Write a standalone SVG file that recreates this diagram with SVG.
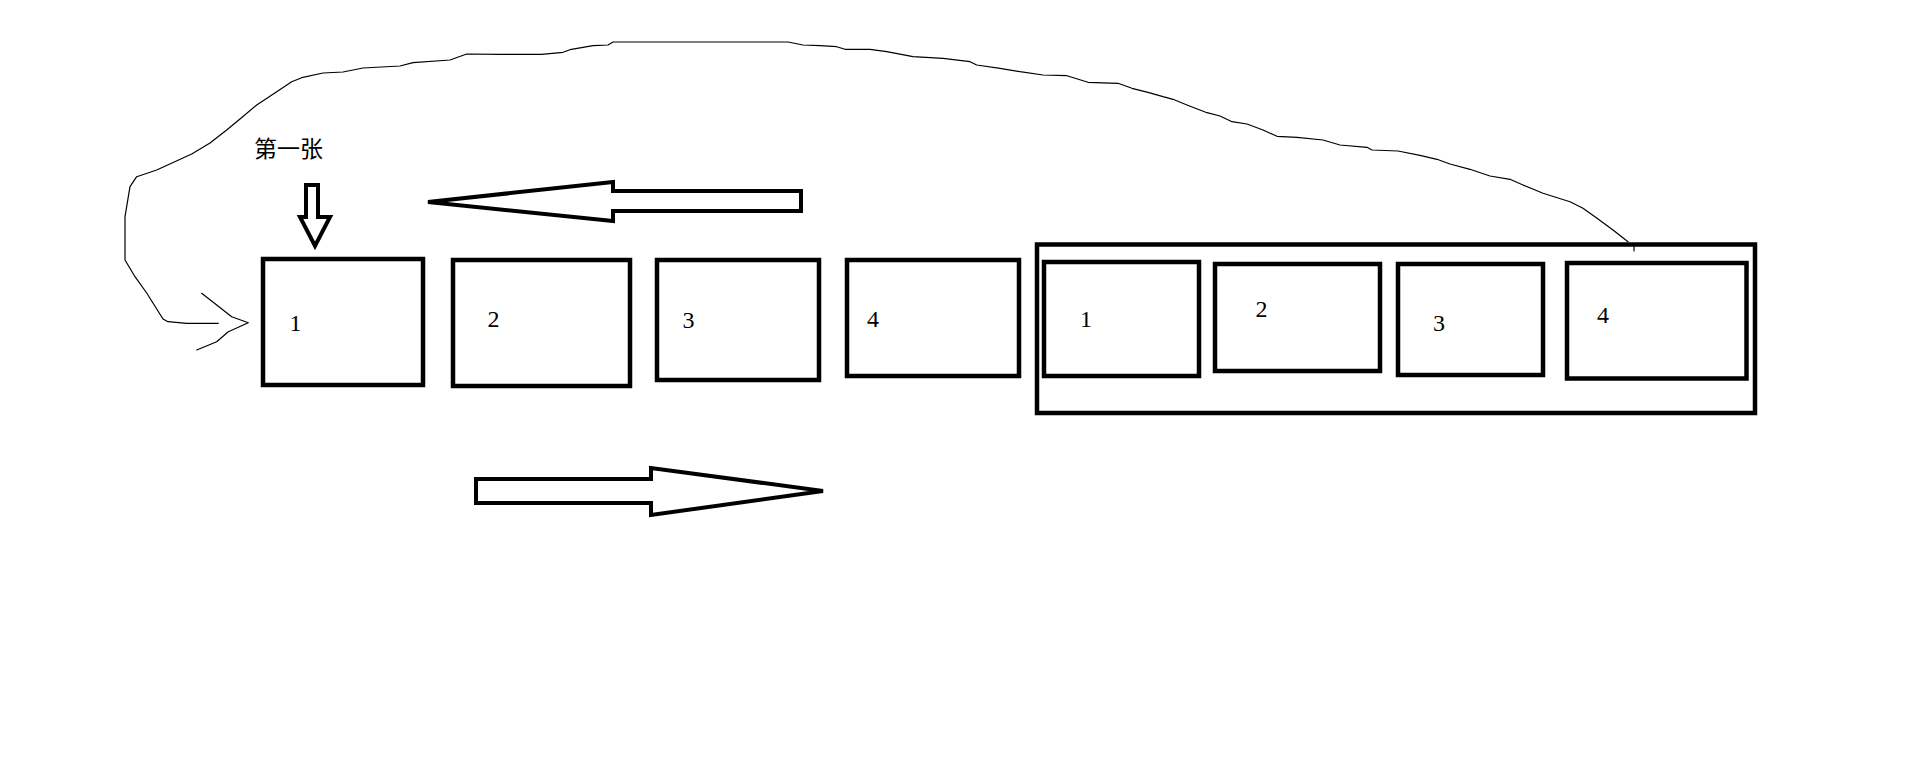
<svg xmlns="http://www.w3.org/2000/svg" width="1912" height="771" viewBox="0 0 1912 771">
<style>
.box{fill:none;stroke:#000;stroke-width:4.5}
.blk{fill:#fff;stroke:#000;stroke-width:4;stroke-linejoin:miter}
.thin{fill:none;stroke:#000;stroke-width:1.2;stroke-linejoin:round;stroke-linecap:round}
.num{font-family:"Liberation Serif","Times New Roman",serif;font-size:24px;fill:#000;text-anchor:middle}
.cjk{font-family:"Noto Sans CJK SC","Noto Sans CJK TC",sans-serif;font-size:23px;fill:#000}
</style>
<rect x="0" y="0" width="1912" height="771" fill="#fff"/>
<g id="connectors">
<polyline class="thin" points="1628,241.7 1613,230 1597,218.3 1583,208.3 1570,201.7 1543,193.3 1523,185 1510,179.3 1490,176 1470,169.3 1450,164 1437,159.3 1420,155.3 1398,151 1372,150 1367,147.3 1340,145 1323,140 1297,137.3 1277,136.3 1263,130 1247,124 1232,121.7 1220,116 1207,112.7 1187,105 1173,99.3 1163,96.7 1148,92.3 1132,88.3 1118,83.3 1088,82.3 1067,75.7 1043,75 1020,71.7 1000,68.3 976.7,65 970,61.7 943,58.3 913,56.7 886.7,51.7 870,49.3 845,49.3 836.7,46.7 820,45.7 803,45 788,42 613,42 608,45 593,45.7 570,49.7 563,52.3 541.7,54.3 500,54.3 466.7,54 450,60 413,62.7 400,66 363,68 343,72 323,73 301.7,77.7 291.7,81.7 276.7,91.7 256.7,105 240,119 226.7,130 210,143 191.7,154 156.7,170 136.7,176.7 130,186.7 125,216.7 125,260 135,276.7 146.7,293 163,319 168,321.7 186.7,323.3 218.3,323.3"/>
<line class="thin" x1="1634" y1="246" x2="1634" y2="251"/>
<polyline class="thin" points="201.7,293.3 216.7,305 231.7,316.7 248.3,322.7 228.3,331.7 216.7,341.7 196.7,350"/>
<polygon class="blk" points="306,217 306,185 318,185 318,217 330,217 315,246 300,217"/>
<polygon class="blk" points="428,202 613,182 613,191 801,191 801,211 613,211 613,221"/>
<polygon class="blk" points="476,479 651,479 651,468 823,491 651,515 651,503 476,503"/>
</g>
<g id="label-first">
<text class="cjk" x="254" y="157">第一张</text>
</g>
<g id="box1">
<rect class="box" x="263" y="259" width="160" height="126"/>
<text class="num" x="295.5" y="331">1</text>
</g>
<g id="box2">
<rect class="box" x="453" y="260" width="177" height="126"/>
<text class="num" x="493.5" y="327">2</text>
</g>
<g id="box3">
<rect class="box" x="657" y="260" width="162" height="120"/>
<text class="num" x="688.6" y="328">3</text>
</g>
<g id="box4">
<rect class="box" x="847" y="260" width="172" height="116"/>
<text class="num" x="873" y="327">4</text>
</g>
<g id="group">
<rect class="box" x="1037" y="244.5" width="718" height="168.5"/>
<g id="inner1">
<rect class="box" x="1044" y="262" width="155" height="114"/>
<text class="num" x="1086" y="327">1</text>
</g>
<g id="inner2">
<rect class="box" x="1215" y="264" width="165" height="107"/>
<text class="num" x="1261.5" y="317">2</text>
</g>
<g id="inner3">
<rect class="box" x="1398" y="264" width="145" height="111"/>
<text class="num" x="1439" y="331">3</text>
</g>
<g id="inner4">
<rect class="box" x="1567" y="263" width="179.5" height="115.5"/>
<text class="num" x="1603" y="323">4</text>
</g>
</g>
</svg>
